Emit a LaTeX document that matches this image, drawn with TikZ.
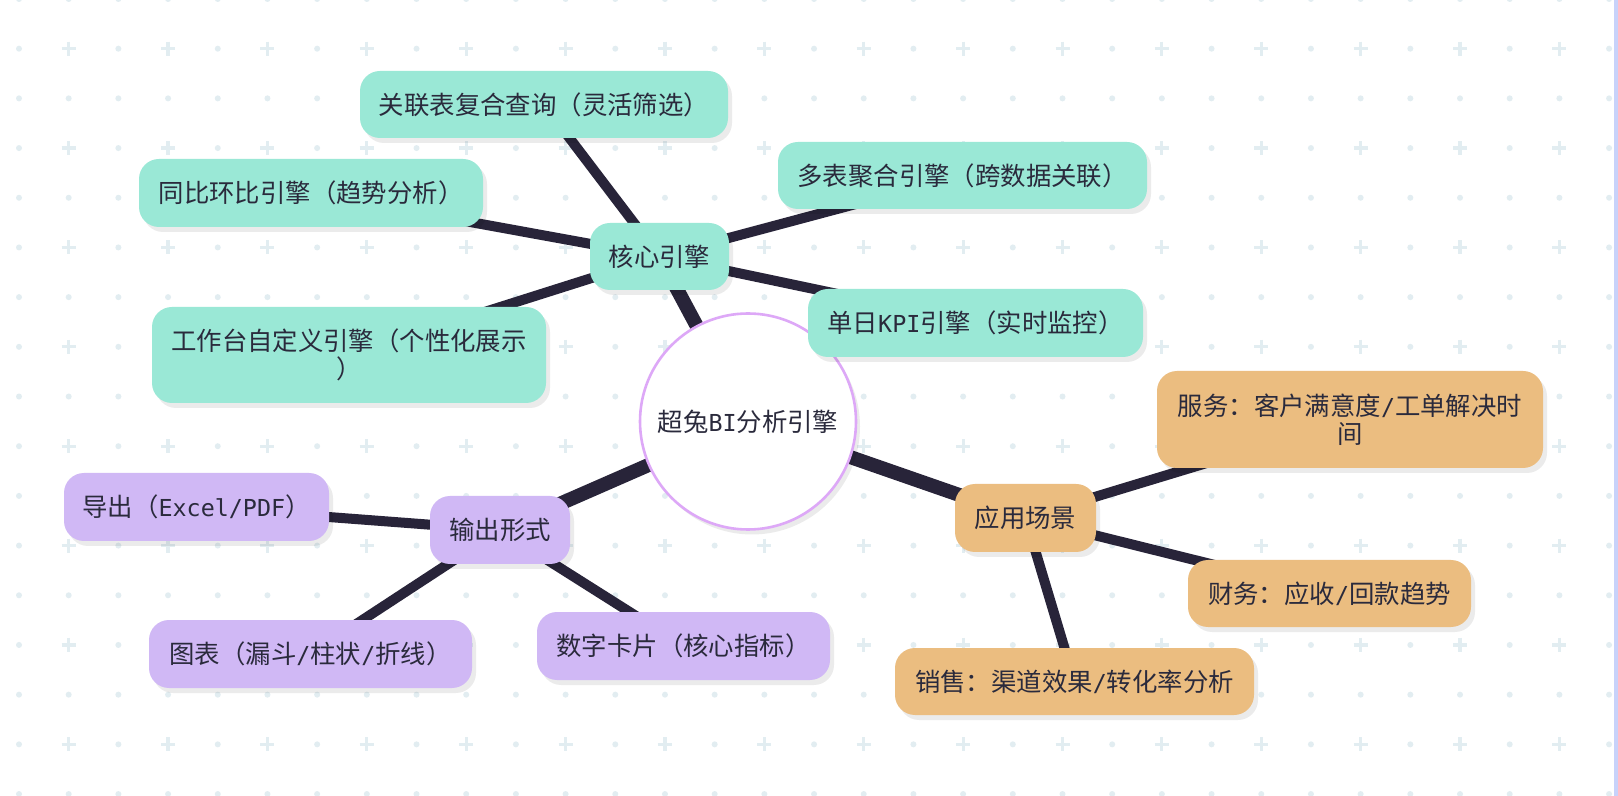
\documentclass[tikz,border=0pt]{standalone}
\usepackage{fontspec}
\newfontfamily\cjk{Noto Sans CJK SC}
\newfontfamily\lat{DejaVu Sans Mono}[Scale=0.92]
\newcommand\la[1]{{\lat #1}}
\usetikzlibrary{shadows}
\definecolor{tealfill}{HTML}{9AE8D6}
\definecolor{purplefill}{HTML}{D0B8F5}
\definecolor{orangefill}{HTML}{EBBD80}
\definecolor{edgec}{HTML}{282439}
\definecolor{ink}{HTML}{2A2A3C}
\definecolor{gridc}{HTML}{E2EDF1}
\definecolor{circc}{HTML}{DDA8F7}
\definecolor{barc}{HTML}{C8D2FA}
\pgfdeclarelayer{bg}
\pgfdeclarelayer{edges}
\pgfsetlayers{bg,edges,main}
\newcommand\nodefont{\cjk\fontsize{12.7}{13.8}\selectfont}
\tikzset{
  mmnode/.style={rectangle, rounded corners=10pt, inner sep=0pt, minimum height=34pt,
    text=ink, font=\nodefont, align=center,
    drop shadow={shadow xshift=2pt, shadow yshift=-2.5pt, fill=black, opacity=0.08}},
  tealnode/.style={mmnode, fill=tealfill},
  purplenode/.style={mmnode, fill=purplefill},
  orangenode/.style={mmnode, fill=orangefill},
  rootnode/.style={circle, fill=white, draw=circc, line width=1.3pt, minimum size=216pt*0.5,
    inner sep=0pt, text=ink, font=\nodefont,
    drop shadow={shadow xshift=2pt, shadow yshift=-2.5pt, fill=black, opacity=0.08}},
  lvlone/.style={draw=edgec, line width=7pt},
  lvltwo/.style={draw=edgec, line width=5pt}
}
\begin{document}
\begin{tikzpicture}[x=0.5pt,y=-0.5pt]
\useasboundingbox (0,0) rectangle (1618,796);
\begin{pgfonlayer}{bg}
\fill[white] (0,0) rectangle (1618,796);
\foreach \k in {0,...,16}{
  \foreach \m in {0,...,32}{
    \pgfmathsetmacro{\gx}{19+49.69*\m}
    \pgfmathsetmacro{\gy}{-1+49.69*\k}
    \pgfmathtruncatemacro{\both}{mod(\k,2)*mod(\m,2)}
    \ifnum\both=1
      \draw[gridc, line width=1.6pt] (\gx-7,\gy) -- (\gx+7,\gy) (\gx,\gy-7) -- (\gx,\gy+7);
    \else
      \fill[gridc] (\gx,\gy) circle[radius=1.5pt];
    \fi
  }
}
\fill[barc] (1614,0) rectangle (1618,796);
\end{pgfonlayer}

% root
\node[rootnode] (root) at (748,421.5) {超兔\la{BI}分析引擎};

% level 1
\node[tealnode, minimum width=69.5pt, minimum height=33.5pt] (core) at (659.5,256.5) {核心引擎};
\node[purplenode, minimum width=70pt] (out) at (500,530) {输出形式};
\node[orangenode, minimum width=70.5pt] (app) at (1025.5,518) {应用场景};

% core children
\node[tealnode, minimum width=184pt, minimum height=33.5pt] (k1) at (544,104.5) {关联表复合查询（灵活筛选）};
\node[tealnode, minimum width=172pt] (k2) at (311,193) {同比环比引擎（趋势分析）};
\node[tealnode, minimum width=197pt, minimum height=48pt] (k3) at (349,355) {工作台自定义引擎（个性化展示\\）};
\node[tealnode, minimum width=184.5pt, minimum height=33.5pt] (k4) at (962.5,175.5) {多表聚合引擎（跨数据关联）};
\node[tealnode, minimum width=167.5pt] (k5) at (975.5,323) {单日\la{KPI}引擎（实时监控）};

% output children
\node[purplenode, minimum width=132.5pt] (o1) at (196.5,507) {导出（\la{Excel/PDF}）};
\node[purplenode, minimum width=161.5pt] (o2) at (310.5,654) {图表（漏斗\la{/}柱状\la{/}折线）};
\node[purplenode, minimum width=146.5pt] (o3) at (683.5,646) {数字卡片（核心指标）};

% application children
\node[orangenode, minimum width=193pt, minimum height=48.5pt] (a1) at (1350,419.5) {服务：客户满意度\la{/}工单解决时\\间};
\node[orangenode, minimum width=141.5pt, minimum height=33.5pt] (a2) at (1329.5,593.5) {财务：应收\la{/}回款趋势};
\node[orangenode, minimum width=179.5pt, minimum height=33.5pt] (a3) at (1074.5,681.5) {销售：渠道效果\la{/}转化率分析};

\begin{pgfonlayer}{edges}
\draw[lvlone] (root.center) -- (core.center);
\draw[lvlone] (root.center) -- (out.center);
\draw[lvlone] (root.center) -- (app.center);
\draw[lvltwo] (core.center) -- (k1.center);
\draw[lvltwo] (core.center) -- (k2.center);
\draw[lvltwo] (core.center) -- (k3.center);
\draw[lvltwo] (core.center) -- (k4.center);
\draw[lvltwo] (core.center) -- (k5.center);
\draw[lvltwo] (out.center) -- (o1.center);
\draw[lvltwo] (out.center) -- (o2.center);
\draw[lvltwo] (out.center) -- (o3.center);
\draw[lvltwo] (app.center) -- (a1.center);
\draw[lvltwo] (app.center) -- (a2.center);
\draw[lvltwo] (app.center) -- (a3.center);
\end{pgfonlayer}
\end{tikzpicture}
\end{document}
